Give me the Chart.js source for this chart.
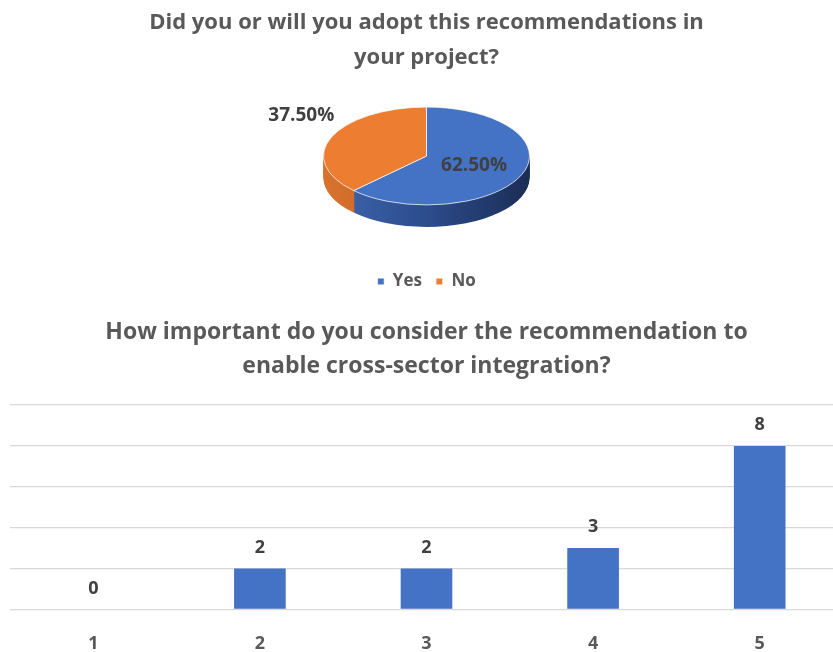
<!DOCTYPE html>
<html>
<head>
<meta charset="utf-8">
<script src="https://cdn.jsdelivr.net/npm/chart.js@4.4.1/dist/chart.umd.min.js"></script>
<style>
    html, body { margin: 0; padding: 0; background: #fff; overflow: hidden; }
    #topBox { position: absolute; left: 0; top: 0; width: 843px; height: 300px; }
    #bottomBox { position: absolute; left: 0; top: 300px; width: 843px; height: 379px; }
</style>
</head>
<body>
<div id="topBox"><canvas id="pieChart"></canvas></div>
<div id="bottomBox"><canvas id="barChart"></canvas></div>
<script>
// Datos
const pieTitle = ['Did you or will you adopt this recommendations in', 'your project?'];
const pieLabels = ['Yes', 'No'];
const pieValues = [62.5, 37.5];
const pieTexts = ['62.50%', '37.50%'];

const barTitle = ['How important do you consider the recommendation to', 'enable cross-sector integration?'];
const barLabels = ['1', '2', '3', '4', '5'];
const barValues = [0, 2, 2, 3, 8];

const FONT = '"Open Sans", Lato, sans-serif';
const GRAY = '#595959';
const DARK = '#404040';

document.addEventListener("DOMContentLoaded", () => {
    initPieChart();
    initBarChart();
});

// pie inclinado con canto (3D)
const tiltPlugin = {
    id: 'tilt',
    beforeDatasetsDraw(chart, args, opts) {
        const meta = chart.getDatasetMeta(0);
        const first = meta.data[0];
        const ctx = chart.ctx;
        const cx = first.x, cy = first.y, r = first.outerRadius;
        ctx.save();
        ctx.translate(cx, opts.centerY);
        ctx.scale(1, opts.ratio);
        ctx.translate(-cx, -cy);

        for (let i = opts.depth; i >= 1; i--) {
            ctx.save();
            ctx.translate(0, i / opts.ratio);
            meta.data.forEach((arc, k) => {
                const g = ctx.createLinearGradient(cx - r, 0, cx + r, 0);
                opts.sides[k].forEach((c, j, all) => g.addColorStop(j / (all.length - 1), c));
                ctx.fillStyle = g;
                ctx.beginPath();
                ctx.moveTo(cx, cy);
                ctx.arc(cx, cy, r, arc.startAngle, arc.endAngle);
                ctx.closePath();
                ctx.fill();
            });
            ctx.restore();
        }
    },
    afterDatasetsDraw(chart, args, opts) {
        const ctx = chart.ctx;
        ctx.restore();

        // etiquetas
        const meta = chart.getDatasetMeta(0);
        ctx.save();
        ctx.font = 'bold 19px ' + FONT;
        ctx.fillStyle = DARK;
        ctx.textBaseline = 'middle';
        meta.data.forEach((arc, k) => {
            const mid = (arc.startAngle + arc.endAngle) / 2;
            const r = arc.outerRadius;
            if (k === 0) {
                ctx.textAlign = 'center';
                ctx.fillText(pieTexts[k], arc.x + Math.cos(mid) * r * 0.5, opts.centerY + Math.sin(mid) * r * 0.5 * opts.ratio);
            } else {
                ctx.textAlign = 'right';
                ctx.fillText(pieTexts[k], arc.x + Math.cos(mid) * r + 3, opts.centerY + Math.sin(mid) * r * opts.ratio - 22);
            }
        });
        ctx.restore();
    }
};

function initPieChart() {
    const ctx = document.getElementById("pieChart");
    if (!ctx) return;

    new Chart(ctx, {
        type: 'pie',
        data: {
            labels: pieLabels,
            datasets: [{
                data: pieValues,
                backgroundColor: ['#4472C4', '#ED7D31'],
                borderColor: '#ffffff',
                borderWidth: 1,
                radius: 103,
                clip: false
            }]
        },
        options: {
            responsive: true,
            maintainAspectRatio: false,
            animation: false,
            layout: { padding: { left: 10 } },
            plugins: {
                tooltip: { enabled: false },
                title: {
                    display: true,
                    text: pieTitle,
                    color: GRAY,
                    font: { family: FONT, size: 22, weight: 'bold', lineHeight: 1.6 },
                    padding: { top: 5, bottom: 4 }
                },
                legend: {
                    position: 'bottom',
                    labels: {
                        usePointStyle: true,
                        pointStyle: 'rect',
                        boxWidth: 7,
                        boxHeight: 7,
                        padding: 14,
                        color: GRAY,
                        font: { family: FONT, size: 17, weight: 'bold' }
                    }
                },
                tilt: {
                    centerY: 156,
                    ratio: 0.475,
                    depth: 22,
                    sides: [
                        ['#3f67b0', '#2c4c8c', '#1b2d55'],
                        ['#d8722f', '#c5601f', '#b0531a']
                    ]
                }
            }
        },
        plugins: [tiltPlugin]
    });
}

// valores encima de las barras
const barValuePlugin = {
    id: 'barValues',
    afterDatasetsDraw(chart) {
        const ctx = chart.ctx;
        const meta = chart.getDatasetMeta(0);
        ctx.save();
        ctx.font = 'bold 18px ' + FONT;
        ctx.fillStyle = DARK;
        ctx.textAlign = 'center';
        ctx.textBaseline = 'middle';
        meta.data.forEach((bar, i) => {
            ctx.fillText(String(barValues[i]), bar.x, bar.y - 21);
        });
        ctx.restore();
    }
};

function initBarChart() {
    const ctx = document.getElementById("barChart");
    if (!ctx) return;

    new Chart(ctx, {
        type: 'bar',
        data: {
            labels: barLabels,
            datasets: [{
                data: barValues,
                backgroundColor: '#4472C4',
                barPercentage: 0.31,
                categoryPercentage: 1
            }]
        },
        options: {
            responsive: true,
            maintainAspectRatio: false,
            animation: false,
            layout: { padding: { left: 10, right: 0, top: 0, bottom: 0 } },
            plugins: {
                legend: { display: false },
                tooltip: { enabled: false },
                title: {
                    display: true,
                    text: barTitle,
                    color: GRAY,
                    font: { family: FONT, size: 23, weight: 'bold', lineHeight: 1.48 },
                    padding: { top: 15, bottom: 22 }
                }
            },
            scales: {
                x: {
                    grid: { display: false, drawTicks: false },
                    border: { display: false },
                    ticks: {
                        color: GRAY,
                        padding: 24,
                        font: { family: FONT, size: 18, weight: 'bold' }
                    }
                },
                y: {
                    min: 0,
                    max: 10,
                    ticks: { stepSize: 2, display: false },
                    grid: { color: '#d9d9d9', lineWidth: 1.3, drawTicks: false },
                    border: { display: false }
                }
            }
        },
        plugins: [barValuePlugin]
    });
}
</script>
</body>
</html>
